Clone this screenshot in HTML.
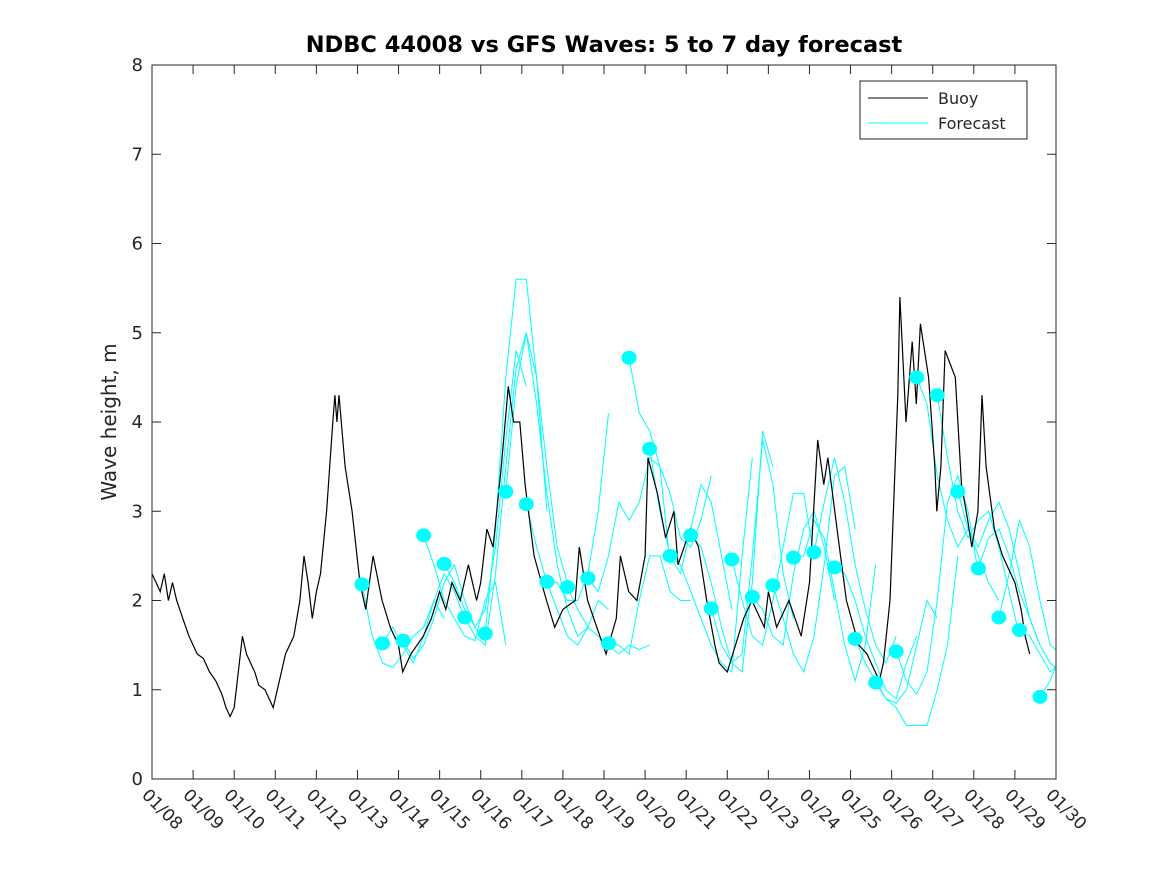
<!DOCTYPE html>
<html><head><meta charset="utf-8"><style>
body{margin:0;background:#fff;}
svg{font-family:"DejaVu Sans","Liberation Sans",sans-serif;}
</style></head><body>
<svg id="chart" width="1167" height="875" viewBox="0 0 1167 875">
<rect width="1167" height="875" fill="#fff"/>
<defs><clipPath id="clip"><rect x="152" y="65" width="904" height="714"/></clipPath></defs>
<text x="604" y="52" text-anchor="middle" font-size="22.5" font-weight="bold">NDBC 44008 vs GFS Waves: 5 to 7 day forecast</text>
<text transform="translate(116,422) rotate(-90)" text-anchor="middle" font-size="20" fill="#262626">Wave height, m</text>
<g id="axes"></g>
<g id="series" clip-path="url(#clip)"></g>
<rect x="152" y="65" width="904" height="714" fill="none" stroke="#262626" stroke-width="1"/>
<g>
<rect x="860" y="81" width="167" height="58" fill="#fff" stroke="#262626"/>
<line x1="868" y1="98" x2="928" y2="98" stroke="#000"/>
<text x="938" y="104" font-size="16" fill="#262626">Buoy</text>
<line x1="868" y1="123" x2="928" y2="123" stroke="#00ffff"/>
<text x="938" y="129" font-size="16" fill="#262626">Forecast</text>
</g>
</svg>
<script>
const xTickLabels=["01/08","01/09","01/10","01/11","01/12","01/13","01/14","01/15","01/16","01/17","01/18","01/19","01/20","01/21","01/22","01/23","01/24","01/25","01/26","01/27","01/28","01/29","01/30"];
const yTicks=[0,1,2,3,4,5,6,7,8];
const buoyT=[0,0.1,0.2,0.3,0.4,0.5,0.6,0.75,0.9,1.0,1.1,1.25,1.4,1.55,1.7,1.8,1.9,2.0,2.1,2.2,2.3,2.4,2.5,2.6,2.75,2.95,3.1,3.25,3.45,3.6,3.7,3.8,3.9,4.0,4.1,4.25,4.4,4.45,4.5,4.55,4.7,4.87,5.06,5.2,5.38,5.6,5.8,6.0,6.1,6.3,6.6,6.8,7.0,7.15,7.3,7.5,7.7,7.9,8.0,8.15,8.3,8.5,8.67,8.8,8.95,9.08,9.3,9.6,9.8,10.0,10.3,10.4,10.6,10.9,11.05,11.3,11.4,11.6,11.8,12.0,12.07,12.3,12.5,12.7,12.8,13.1,13.3,13.5,13.7,13.8,14.0,14.2,14.4,14.6,14.9,15.0,15.2,15.5,15.8,16.0,16.2,16.35,16.45,16.7,16.9,17.2,17.4,17.7,17.8,17.96,18.15,18.2,18.35,18.5,18.6,18.7,18.9,19.05,19.1,19.2,19.3,19.55,19.7,19.85,19.95,20.1,20.2,20.3,20.5,20.7,21.0,21.15,21.25,21.36];
const buoyV=[2.3,2.2,2.1,2.3,2.0,2.2,2.0,1.8,1.6,1.5,1.4,1.35,1.2,1.1,0.95,0.8,0.7,0.8,1.2,1.6,1.4,1.3,1.2,1.05,1.0,0.8,1.1,1.4,1.6,2.0,2.5,2.2,1.8,2.1,2.3,3.0,4.0,4.3,4.0,4.3,3.5,3.0,2.2,1.9,2.5,2.0,1.7,1.5,1.2,1.4,1.6,1.8,2.1,1.9,2.2,2.0,2.4,2.0,2.2,2.8,2.6,3.5,4.4,4.0,4.0,3.3,2.5,2.0,1.7,1.9,2.0,2.6,2.0,1.6,1.4,1.8,2.5,2.1,2.0,2.5,3.6,3.2,2.7,3.0,2.4,2.8,2.6,2.0,1.5,1.3,1.2,1.5,1.8,2.0,1.7,2.1,1.7,2.0,1.6,2.2,3.8,3.3,3.6,2.7,2.0,1.5,1.4,1.1,1.3,2.0,4.3,5.4,4.0,4.9,4.2,5.1,4.5,3.5,3.0,3.5,4.8,4.5,3.3,2.9,2.6,3.0,4.3,3.5,2.8,2.5,2.2,1.9,1.6,1.4];
const fcStart=[5.11,5.61,6.11,6.61,7.11,7.61,8.11,8.61,9.11,9.61,10.11,10.61,11.11,11.61,12.11,12.61,13.11,13.61,14.11,14.61,15.11,15.61,16.11,16.61,17.11,17.61,18.11,18.61,19.11,19.61,20.11,20.61,21.11,21.61];
const fc0=[2.18,1.6,1.3,1.25,1.4,1.6,1.7,2.0,1.8];
const fc1=[1.52,1.7,1.5,1.3,1.6,2.0,2.3,2.1,1.8];
const fc2=[1.55,1.35,1.5,1.8,2.2,2.4,2.0,1.7,1.55];
const fc3=[2.73,2.4,2.0,1.8,1.6,1.55,2.0,2.2,1.5];
const fc4=[2.41,2.2,1.9,1.7,1.9,2.6,3.8,4.8,4.4];
const fc5=[1.81,1.6,1.5,2.3,3.5,4.6,5.0,4.5,3.0];
const fc6=[1.63,2.8,4.5,5.6,5.6,4.5,3.5,2.6,2.2];
const fc7=[3.22,4.4,5.0,4.2,3.2,2.4,1.9,1.6,1.7];
const fc8=[3.08,2.6,2.2,1.9,1.6,1.5,1.7,2.0,1.9];
const fc9=[2.21,2.2,2.0,2.0,2.3,3.0,4.1];
const fc10=[2.15,1.9,1.7,1.6,1.5,1.4,1.5,1.45,1.5];
const fc11=[2.25,2.1,2.5,3.1,2.9,3.1,3.6,3.5,2.4];
const fc12=[1.52,1.5,1.4,2.0,2.5,2.5,2.1,2.0,2.0];
const fc13=[4.72,4.1,3.9,3.5,3.2,2.7,2.6,2.9,3.4];
const fc14=[3.70,3.0,2.5,2.3,2.8,3.3,3.1,2.5,1.9];
const fc15=[2.5,2.4,2.1,1.8,1.5,1.3,1.2,2.5,3.6];
const fc16=[2.73,2.6,2.2,1.7,1.3,1.2,2.2,3.9,3.5];
const fc17=[1.91,1.5,1.3,1.4,2.5,3.8,3.3,2.3,1.8];
const fc18=[2.46,2.0,1.6,1.5,2.0,2.6,3.2,3.2,2.5];
const fc19=[2.04,1.9,1.6,1.5,2.3,2.8,3.0,2.6,2.0];
const fc20=[2.17,1.8,1.4,1.2,1.6,2.4,3.4,3.5,2.8];
const fc21=[2.48,2.5,2.9,2.7,2.1,1.5,1.1,1.5,2.4];
const fc22=[2.54,3.1,3.6,3.1,2.4,1.9,1.5,1.3,1.6];
const fc23=[2.37,2.3,2.0,1.6,1.3,1.0,0.9,1.3,1.6];
const fc24=[1.57,1.3,1.1,0.9,0.85,1.0,1.5,2.0,1.8];
const fc25=[1.08,0.9,0.8,0.6,0.6,0.6,1.0,1.5,2.5];
const fc26=[1.43,1.1,0.95,1.2,2.0,3.1,3.4,3.0,2.3];
const fc27=[4.50,4.2,3.4,2.9,2.6,2.8,2.5,2.2,2.0];
const fc28=[4.30,3.6,3.0,2.7,2.9,3.0,2.6,2.1,1.6];
const fc29=[3.22,2.8,2.6,2.9,3.1,2.8,2.3,1.8,1.5];
const fc30=[2.36,2.7,2.8,2.5,2.1,1.8,1.5,1.3,1.2];
const fc31=[1.81,2.3,2.9,2.6,2.0,1.5,1.4,1.3,1.4];
const fc32=[1.67,1.6,1.4,1.2,1.3,1.6,1.9,1.7,1.5];
const fc33=[0.92,1.1,1.4,1.6,1.5];
const forecasts=[fc0,fc1,fc2,fc3,fc4,fc5,fc6,fc7,fc8,fc9,fc10,fc11,fc12,fc13,fc14,fc15,fc16,fc17,fc18,fc19,fc20,fc21,fc22,fc23,fc24,fc25,fc26,fc27,fc28,fc29,fc30,fc31,fc32,fc33];

const NS="http://www.w3.org/2000/svg";
const X0=152,X1=1056,Y0=779,Y1=65;
function xs(t){return X0+(X1-X0)*t/22;}
function ys(v){return Y0-(Y0-Y1)*v/8;}
const axes=document.getElementById('axes');
const series=document.getElementById('series');
function mk(tag,attrs,parent){const e=document.createElementNS(NS,tag);for(const k in attrs)e.setAttribute(k,attrs[k]);parent.appendChild(e);return e;}

xTickLabels.forEach((lab,i)=>{
  const x=xs(i);
  const t1=mk('line',{x1:x,y1:Y0,x2:x,y2:Y0-9,stroke:'#262626'},axes);
  
  
  const t2=mk('line',{x1:x,y1:Y1,x2:x,y2:Y1+9,stroke:'#262626'},axes);
  
  
  const tx=mk('text',{transform:`translate(${x-11},${Y0+17}) rotate(45)`,'font-size':17,fill:'#262626'},axes);
  tx.textContent=lab;
  
  
});
yTicks.forEach(v=>{
  const y=ys(v);
  const a=mk('line',{x1:X0,y1:y,x2:X0+9,y2:y,stroke:'#262626'},axes);
  
  
  const b=mk('line',{x1:X1,y1:y,x2:X1-9,y2:y,stroke:'#262626'},axes);
  
  
  const tx=mk('text',{x:X0-9,y:y+6,'text-anchor':'end','font-size':18,fill:'#262626'},axes);
  tx.textContent=v;
  
  
});

forecasts.forEach((arr,i)=>{
  const pts=arr.map((v,j)=>xs(fcStart[i]+0.25*j).toFixed(1)+','+ys(v).toFixed(1)).join(' ');
  const pl=mk('polyline',{points:pts,fill:'none',stroke:'#00ffff','stroke-width':1},series);
  
  
});
const bpts=buoyT.map((t,i)=>xs(t).toFixed(1)+','+ys(buoyV[i]).toFixed(1)).join(' ');
const bl=mk('polyline',{points:bpts,fill:'none',stroke:'#000','stroke-width':1.2},series);


forecasts.forEach((arr,i)=>{
  const c=mk('ellipse',{cx:xs(fcStart[i]),cy:ys(arr[0]),rx:7.5,ry:7,fill:'#00ffff'},series);
  
  
});
</script>
</body></html>
